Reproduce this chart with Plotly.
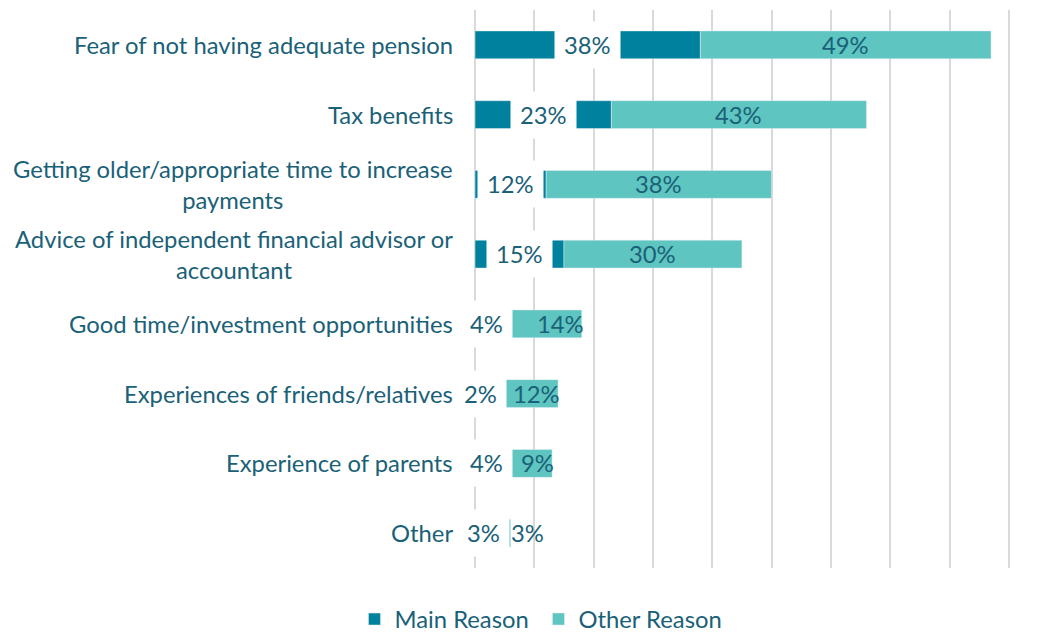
import plotly.graph_objects as go

categories = [
    "Fear of not having adequate pension",
    "Tax benefits",
    "Getting older/appropriate time to increase<br>payments",
    "Advice of independent financial advisor or<br>accountant",
    "Good time/investment opportunities",
    "Experiences of friends/relatives",
    "Experience of parents",
    "Other",
]
main_reason = [38, 23, 12, 15, 4, 2, 4, 3]
other_reason = [49, 43, 38, 30, 14, 12, 9, 3]

dark = "#00829E"
light = "#5EC5C0"
text_col = "#1A6178"
font = "Lato"
fs = 23.8

fig = go.Figure()
fig.add_bar(
    y=categories, x=main_reason, orientation="h", name="Main Reason",
    marker_color=dark, width=0.4,
)
fig.add_bar(
    y=categories, x=other_reason, orientation="h", name="Other Reason",
    marker_color=light, width=0.4, base=main_reason,
)

# main reason value labels on white boxes
for cat, v in zip(categories, main_reason):
    fig.add_annotation(
        x=v / 2, y=cat, text=f"{v}%", showarrow=False,
        bgcolor="white", borderpad=9,
        font=dict(color=text_col, size=fs, family=font),
    )

# other reason labels: centred on long bars, pushed to the end on short ones
for cat, m, o in zip(categories, main_reason, other_reason):
    if o >= 20:
        x, anchor, shift = m + o / 2, "center", 0
    elif o > m:
        x, anchor, shift = m + o, "right", 4
    else:
        x, anchor, shift = m + o, "left", -2
    fig.add_annotation(
        x=x, y=cat, text=f"{o}%", showarrow=False, xanchor=anchor, xshift=shift,
        font=dict(color=text_col, size=fs, family=font),
    )

# category labels, centred multi-line
for cat in categories:
    fig.add_annotation(
        x=0, xref="paper", y=cat, text=cat, showarrow=False,
        xanchor="right", align="center", xshift=-20,
        font=dict(color=text_col, size=fs, family=font),
    )

fig.update_layout(
    barmode="overlay",
    width=1060, height=633,
    margin=dict(l=475, r=50, t=10, b=65),
    plot_bgcolor="white", paper_bgcolor="white",
    font=dict(family=font, color=text_col, size=fs),
    legend=dict(
        orientation="h", xref="container", yref="container",
        x=0.508, y=0.022, xanchor="center", yanchor="middle",
        font=dict(size=fs, color=text_col, family=font),
        itemwidth=30, traceorder="normal", entrywidth=139,
    ),
    showlegend=True,
)
fig.update_xaxes(
    range=[0, 90.2], dtick=10, showgrid=True, gridcolor="#D9D9D9", gridwidth=2,
    zeroline=True, zerolinecolor="#D9D9D9", zerolinewidth=2,
    showticklabels=False, fixedrange=True,
)
fig.update_yaxes(
    autorange="reversed", showticklabels=False, showgrid=False, fixedrange=True,
)

fig.write_html(
    "out.html",
    config={"displayModeBar": False},
    post_script="document.body.style.margin='0';",
)
